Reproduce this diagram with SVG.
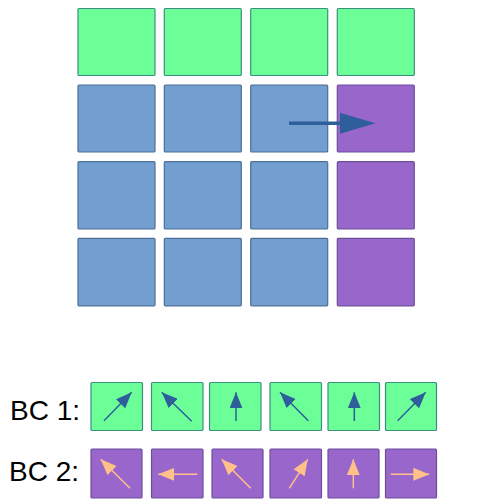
<svg xmlns="http://www.w3.org/2000/svg" width="497" height="504" viewBox="0 0 497 504">
<style>
.g{fill:#6cff98;stroke:#3b8f80;stroke-width:1.2}
.b{fill:#729fcf;stroke:#4d6e96;stroke-width:1.2}
.p{fill:#9966cc;stroke:#6b4f99;stroke-width:1.2}
.da{stroke:#2e5f9b;stroke-width:1.5;fill:none;marker-end:url(#hd)}
.pa{stroke:#ffc08a;stroke-width:1.5;fill:none;marker-end:url(#hp)}
.lbl{font-family:"Liberation Sans",Arial,sans-serif;font-size:28px;fill:#000}
</style>
<defs>
<marker id="hd" viewBox="0 0 16 13" refX="16" refY="6.5" markerWidth="16" markerHeight="13" markerUnits="userSpaceOnUse" orient="auto"><path d="M0,0L16,6.5L0,13z" fill="#2e5f9b"/></marker>
<marker id="hp" viewBox="0 0 16 13" refX="16" refY="6.5" markerWidth="16" markerHeight="13" markerUnits="userSpaceOnUse" orient="auto"><path d="M0,0L16,6.5L0,13z" fill="#ffc08a"/></marker>
</defs>
<g id="grid">
<g id="r1c1"><rect class="g" x="78" y="8.5" width="77" height="67" rx="1"/></g>
<g id="r1c2"><rect class="g" x="164.3" y="8.5" width="77" height="67" rx="1"/></g>
<g id="r1c3"><rect class="g" x="250.7" y="8.5" width="77" height="67" rx="1"/></g>
<g id="r1c4"><rect class="g" x="337.3" y="8.5" width="77" height="67" rx="1"/></g>
<g id="r2c1"><rect class="b" x="78" y="85" width="77" height="67" rx="1"/></g>
<g id="r2c2"><rect class="b" x="164.3" y="85" width="77" height="67" rx="1"/></g>
<g id="r2c3"><rect class="b" x="250.7" y="85" width="77" height="67" rx="1"/></g>
<g id="r2c4"><rect class="p" x="337.3" y="85" width="77" height="67" rx="1"/></g>
<g id="r3c1"><rect class="b" x="78" y="161.7" width="77" height="67.3" rx="1"/></g>
<g id="r3c2"><rect class="b" x="164.3" y="161.7" width="77" height="67.3" rx="1"/></g>
<g id="r3c3"><rect class="b" x="250.7" y="161.7" width="77" height="67.3" rx="1"/></g>
<g id="r3c4"><rect class="p" x="337.3" y="161.7" width="77" height="67.3" rx="1"/></g>
<g id="r4c1"><rect class="b" x="78" y="238.3" width="77" height="67.5" rx="1"/></g>
<g id="r4c2"><rect class="b" x="164.3" y="238.3" width="77" height="67.5" rx="1"/></g>
<g id="r4c3"><rect class="b" x="250.7" y="238.3" width="77" height="67.5" rx="1"/></g>
<g id="r4c4"><rect class="p" x="337.3" y="238.3" width="77" height="67.5" rx="1"/></g>
</g>
<g id="bc1">
<text class="lbl" x="10" y="419.5">BC 1:</text>
<rect class="g" x="91" y="382.5" width="51.5" height="48" rx="1"/>
<rect class="g" x="151.5" y="382.5" width="51.5" height="48" rx="1"/>
<rect class="g" x="209.5" y="382.5" width="51.5" height="48" rx="1"/>
<rect class="g" x="270" y="382.5" width="51.5" height="48" rx="1"/>
<rect class="g" x="328" y="382.5" width="51.5" height="48" rx="1"/>
<rect class="g" x="385.5" y="382.5" width="51" height="48" rx="1"/>
</g>
<g id="bc2">
<text class="lbl" x="9" y="480.7">BC 2:</text>
<rect class="p" x="91" y="449" width="51" height="49" rx="1"/>
<rect class="p" x="151.5" y="449" width="51.5" height="49" rx="1"/>
<rect class="p" x="212" y="449" width="51" height="49" rx="1"/>
<rect class="p" x="270" y="449" width="51.5" height="49" rx="1"/>
<rect class="p" x="328" y="449" width="51" height="49" rx="1"/>
<rect class="p" x="385.5" y="449" width="51" height="49" rx="1"/>
</g>
<g id="connectors">
<line x1="289" y1="123.3" x2="341" y2="123.3" stroke="#2e5f9b" stroke-width="3.5"/>
<polygon points="340,112.8 375.5,123.3 340,133.8" fill="#2e5f9b"/>
<line class="da" x1="104" y1="420.7" x2="131.7" y2="392.3"/>
<line class="da" x1="191.7" y1="421.3" x2="161.7" y2="392.3"/>
<line class="da" x1="236" y1="421" x2="236" y2="392.3"/>
<line class="da" x1="308.3" y1="420.7" x2="280" y2="392.3"/>
<line class="da" x1="354.3" y1="421" x2="354.3" y2="392.3"/>
<line class="da" x1="397.7" y1="420.7" x2="425.7" y2="392.3"/>
<line class="pa" x1="130" y1="488.3" x2="100.7" y2="459.3"/>
<line class="pa" x1="197.3" y1="474.3" x2="158.3" y2="474.3"/>
<line class="pa" x1="250.7" y1="488.3" x2="221.7" y2="459.3"/>
<line class="pa" x1="289.3" y1="488.3" x2="307.7" y2="459.3"/>
<line class="pa" x1="353.3" y1="488.3" x2="353.3" y2="459.3"/>
<line class="pa" x1="390.7" y1="474.3" x2="429.3" y2="474.3"/>
</g>
</svg>
